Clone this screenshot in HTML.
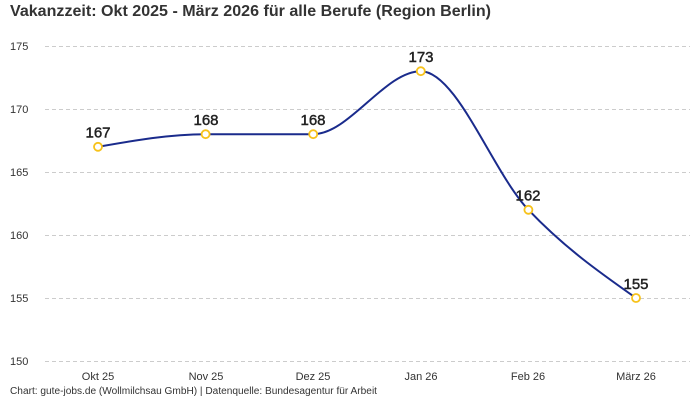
<!DOCTYPE html>
<html><head><meta charset="utf-8"><style>
html,body{margin:0;padding:0;background:#fff;}
svg{display:block;font-family:"Liberation Sans",sans-serif;}
</style></head><body>
<svg width="700" height="400" viewBox="0 0 700 400" xmlns="http://www.w3.org/2000/svg">
<text x="10" y="16" font-size="16" font-weight="bold" fill="#333" textLength="481" lengthAdjust="spacingAndGlyphs">Vakanzzeit: Okt 2025 - März 2026 für alle Berufe (Region Berlin)</text>
<g stroke="#cccccc" stroke-width="1" stroke-dasharray="4,3">
<line x1="45" y1="46.5" x2="690" y2="46.5"/>
<line x1="45" y1="109.5" x2="690" y2="109.5"/>
<line x1="45" y1="172.5" x2="690" y2="172.5"/>
<line x1="45" y1="235.5" x2="690" y2="235.5"/>
<line x1="45" y1="298.5" x2="690" y2="298.5"/>
<line x1="45" y1="361.5" x2="690" y2="361.5"/>
</g>
<g font-size="11" fill="#333">
<text x="10" y="50">175</text>
<text x="10" y="113">170</text>
<text x="10" y="176">165</text>
<text x="10" y="239">160</text>
<text x="10" y="302">155</text>
<text x="10" y="365">150</text>
</g>
<g font-size="11" fill="#333" text-anchor="middle">
<text x="98" y="380">Okt 25</text>
<text x="206" y="380">Nov 25</text>
<text x="313" y="380">Dez 25</text>
<text x="421" y="380">Jan 26</text>
<text x="528" y="380">Feb 26</text>
<text x="636" y="380">März 26</text>
</g>
<path d="M98,146.8 C133.9,140.5 169.7,134.2 205.6,134.2 C241.5,134.2 277.3,134.2 313.2,134.2 C349.1,134.2 385,71.2 420.8,71.2 C456.7,71.2 492.5,172 528.4,209.8 C564.3,247.6 600.1,272.8 636,298" fill="none" stroke="#1a2b8c" stroke-width="2"/>
<g fill="#fff" stroke="#f7c21a" stroke-width="1.8">
<circle cx="98" cy="146.8" r="4"/>
<circle cx="205.6" cy="134.2" r="4"/>
<circle cx="313.2" cy="134.2" r="4"/>
<circle cx="420.8" cy="71.2" r="4"/>
<circle cx="528.4" cy="209.8" r="4"/>
<circle cx="636" cy="298" r="4"/>
</g>
<g font-size="15" fill="#222" stroke="#222" stroke-width="0.45" text-anchor="middle">
<text x="98" y="137.6">167</text>
<text x="206" y="125">168</text>
<text x="313" y="125">168</text>
<text x="421" y="62">173</text>
<text x="528" y="200.6">162</text>
<text x="636" y="288.8">155</text>
</g>
<text x="10" y="394" font-size="10" fill="#333" textLength="367" lengthAdjust="spacingAndGlyphs">Chart: gute-jobs.de (Wollmilchsau GmbH) | Datenquelle: Bundesagentur für Arbeit</text>
</svg>
</body></html>
